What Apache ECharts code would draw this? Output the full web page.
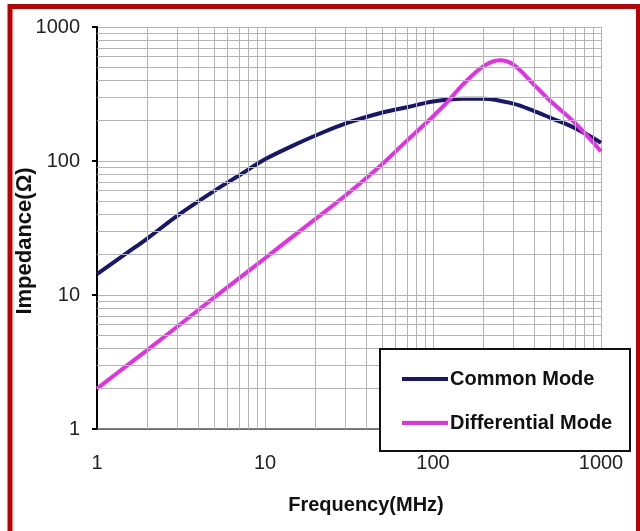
<!DOCTYPE html>
<html><head><meta charset="utf-8">
<script src="https://cdn.jsdelivr.net/npm/echarts@6/dist/echarts.min.js"></script>
<style>html,body{margin:0;padding:0;background:#fff}#c{width:640px;height:531px}</style>
</head><body><div id="c"></div>
<script>
const freqCommon = [1, 1.5, 2, 3, 5, 7, 10, 15, 20, 30, 50, 70, 100, 150, 200, 300, 400, 500, 700, 1000];
const commonMode = [14.3, 20.5, 26.5, 39, 60, 78, 103, 132, 155, 190, 230, 252, 278, 292, 292, 268, 236, 210, 176, 137];
const freqDiff = [1, 1.5, 2, 3, 5, 7, 10, 15, 20, 30, 50, 70, 100, 120, 150, 200, 250, 300, 400, 500, 700, 1000];
const diffMode = [2.0, 2.96, 3.9, 5.8, 9.6, 13.3, 18.8, 28, 37, 55, 95, 142, 215, 270, 370, 510, 565, 525, 370, 280, 192, 118];
const minorGrid = [2, 3, 4, 5, 6, 7, 8, 9, 20, 30, 40, 50, 60, 70, 80, 90, 200, 300, 400, 500, 600, 700, 800, 900];
const seriesNames = ['Common Mode', 'Differential Mode'];
const xName = 'Frequency(MHz)';
const yName = 'Impedance(Ω)';

const FONT = '"Liberation Sans", Arial, sans-serif';
const chart = echarts.init(document.getElementById('c'), null, {renderer: 'canvas'});
const gridColor = '#b4b4b4';
const plainLabel = v => String(Math.round(v));
chart.setOption({
  animation: false,
  backgroundColor: '#fff',
  grid: {left: 97, top: 27, right: 39, bottom: 102, containLabel: false, outerBoundsMode: 'none'},
  xAxis: {
    type: 'log', logBase: 10, min: 1, max: 1000,
    name: xName, nameLocation: 'middle', nameGap: 66, nameMoveOverlap: false,
    nameTextStyle: {fontFamily: FONT, fontSize: 20, fontWeight: 'bold', color: '#111', padding: [0, 0, 0, 34]},
    axisLine: {show: true, lineStyle: {color: '#555', width: 1.5}},
    axisTick: {show: false},
    axisLabel: {fontFamily: FONT, fontSize: 20, color: '#222', margin: 24, formatter: plainLabel},
    splitLine: {show: true, lineStyle: {color: gridColor, width: 1}}
  },
  yAxis: {
    type: 'log', logBase: 10, min: 1, max: 1000,
    name: yName, nameLocation: 'middle', nameGap: 61, nameRotate: 90, nameMoveOverlap: false,
    nameTextStyle: {fontFamily: FONT, fontSize: 22, fontWeight: 'bold', color: '#111', padding: [0, 26, 0, 0]},
    axisLine: {show: true, lineStyle: {color: '#000', width: 2}},
    axisTick: {show: true, inside: false, length: 5, lineStyle: {color: '#000', width: 2}},
    axisLabel: {fontFamily: FONT, fontSize: 20, color: '#222', margin: 17, formatter: plainLabel},
    splitLine: {show: true, lineStyle: {color: gridColor, width: 1}}
  },
  legend: {
    data: seriesNames, orient: 'vertical', left: 397, top: 363, z: 20,
    icon: 'rect', itemWidth: 46, itemHeight: 4, itemGap: 22,
    textStyle: {fontFamily: FONT, fontSize: 20, fontWeight: 'bold', color: '#111', lineHeight: 22, padding: [0, 0, 0, -3]}
  },
  graphic: {elements: [
    {type: 'rect', z: 10, shape: {x: 380, y: 349, width: 250, height: 102},
     style: {fill: '#fff', stroke: '#111', lineWidth: 2}},
    {type: 'rect', z: 30, shape: {x: 10, y: 6.5, width: 628.5, height: 600},
     style: {fill: 'none', stroke: '#c00000', lineWidth: 5}}
  ]},
  series: [
    {
      type: 'line', name: '_grid', data: [], silent: true, z: 1,
      markLine: {
        silent: true, symbol: ['none', 'none'], label: {show: false}, animation: false,
        lineStyle: {color: gridColor, width: 1, type: 'solid'},
        emphasis: {disabled: true},
        data: minorGrid.map(v => ({xAxis: v})).concat(minorGrid.map(v => ({yAxis: v})))
      }
    },
    {
      type: 'line', name: seriesNames[0], smooth: 0.35, showSymbol: false, z: 3,
      data: freqCommon.map((f, i) => [f, commonMode[i]]),
      lineStyle: {color: '#17176e', width: 4}, itemStyle: {color: '#17176e'}
    },
    {
      type: 'line', name: seriesNames[1], smooth: 0.35, showSymbol: false, z: 4,
      data: freqDiff.map((f, i) => [f, diffMode[i]]),
      lineStyle: {color: '#e62ee6', width: 4}, itemStyle: {color: '#e62ee6'}
    }
  ]
});
</script></body></html>
